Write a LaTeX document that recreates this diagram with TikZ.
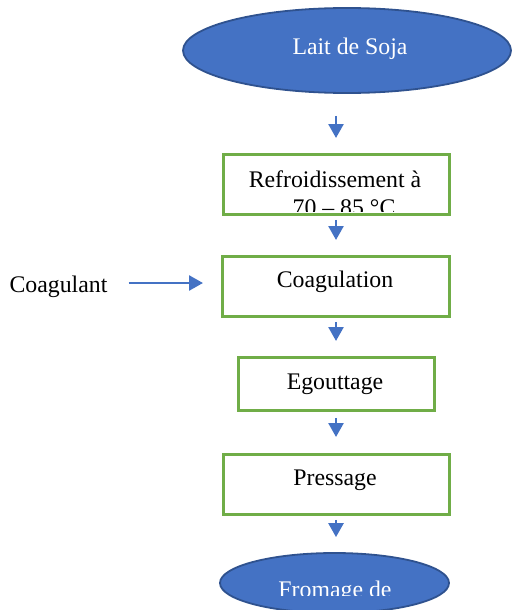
\documentclass[tikz,border=0pt]{standalone}
\usepackage{fontspec}
\setmainfont{Liberation Serif}
\usetikzlibrary{shapes.geometric,arrows.meta}
\definecolor{stepgreen}{RGB}{112,173,71}
\definecolor{capblue}{RGB}{68,114,196}
\definecolor{capedge}{RGB}{47,82,143}
\tikzset{
  stepbox/.style={draw=stepgreen,line width=2.8pt,inner sep=0pt,anchor=north west},
  capsule/.style={ellipse,draw=capedge,fill=capblue,line width=1.8pt,inner sep=0pt},
  flow/.style={draw=capblue,line width=2.6pt,-{Triangle[length=14pt,width=15pt]}},
  lbl/.style={font=\fontsize{23.8pt}{27pt}\selectfont,inner sep=0pt,anchor=base},
}
\begin{document}
\begin{tikzpicture}[x=1pt,y=-1pt]
\useasboundingbox (0,0) rectangle (512,610);

% axis of the vertical flow
\coordinate (ax) at (336,0);
\coordinate (ay) at (0,283);

% start and end capsules
\node[capsule,minimum width=328pt,minimum height=85pt] (lait) at (347,50.5) {};
\node[lbl,text=white] (laittxt) at (350,55) {Lait de Soja};

\node[capsule,minimum width=229pt,minimum height=60pt] (fromage) at (334.5,583) {};
\begin{scope}
  \clip (200,540) rectangle (470,595);
  \node[lbl,text=white] (fromtxt) at (335,597) {Fromage de};
\end{scope}

% process steps
\node[stepbox,minimum width=226pt,minimum height=60pt] (refr) at (222,153) {};
\begin{scope}
  \clip (223.5,154.5) rectangle (446.5,211);
  \node[lbl] (refrA) at (335,187) {Refroidissement à};
  \node[lbl] (refrB) at (344,215) {70 – 85 °C};
\end{scope}

\node[stepbox,minimum width=227pt,minimum height=60pt] (coag) at (221,255) {};
\node[lbl] (coagtxt) at (335,287) {Coagulation};

\node[stepbox,minimum width=196pt,minimum height=53pt] (egou) at (237,356) {};
\node[lbl] (egoutxt) at (335,389) {Egouttage};

\node[stepbox,minimum width=226pt,minimum height=60pt] (pres) at (222,453) {};
\node[lbl] (prestxt) at (335,485) {Pressage};

\node[lbl] (coagulant) at (58.5,292) {Coagulant};

% connectors
\draw[flow,shorten <=22pt,shorten >=15pt] (lait.south -| ax) -- (refr.north -| ax);
\draw[flow,shorten <=4pt,shorten >=15pt] (refr.south -| ax) -- (coag.north -| ax);
\draw[flow,shorten <=4pt,shorten >=15pt] (coag.south -| ax) -- (egou.north -| ax);
\draw[flow,shorten <=6pt,shorten >=16pt] (egou.south -| ax) -- (pres.north -| ax);
\draw[flow,shorten <=4pt,shorten >=15pt] (pres.south -| ax) -- (fromage.north -| ax);
\draw[flow,shorten <=21pt,shorten >=18pt] (coagulant.east |- ay) -- (coag.west |- ay);
\end{tikzpicture}
\end{document}
